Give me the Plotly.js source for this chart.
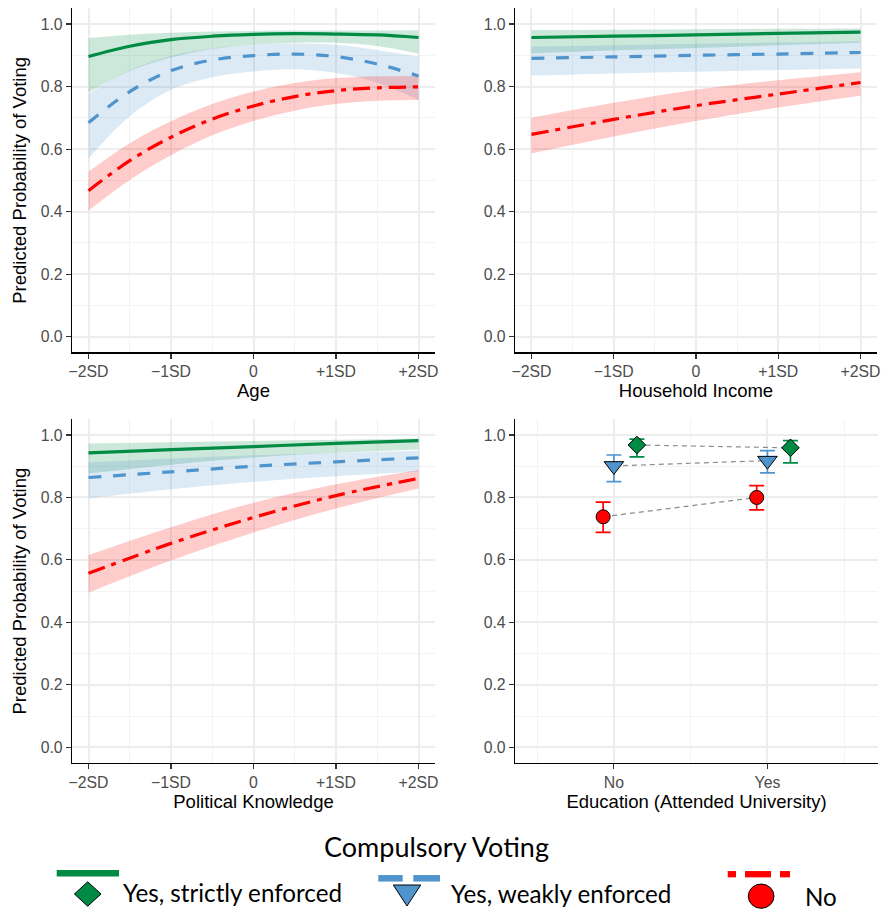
<!DOCTYPE html>
<html><head><meta charset="utf-8">
<script src="https://cdn.plot.ly/plotly-3.0.1.min.js"></script>
<style>html,body{margin:0;padding:0;background:#fff}</style>
</head><body><div id="chart" style="width:884px;height:914px"></div>
<script>
// ---------- data ----------
const sdVals = [-2, -1, 0, 1, 2];
const sdLabels = ['\u22122SD', '\u22121SD', '0', '+1SD', '+2SD'];

// Age panel
const ageX = [-2, -1.5, -1, -0.5, 0, 0.5, 1, 1.5, 2];
const ageStrict   = [0.896, 0.929, 0.950, 0.961, 0.967, 0.969, 0.968, 0.965, 0.957];
const ageStrictLo = [0.780, 0.850, 0.893, 0.920, 0.934, 0.940, 0.940, 0.930, 0.905];
const ageStrictHi = [0.955, 0.966, 0.972, 0.976, 0.978, 0.979, 0.979, 0.979, 0.980];
const ageWeak     = [0.684, 0.784, 0.851, 0.885, 0.899, 0.904, 0.896, 0.872, 0.834];
const ageWeakLo   = [0.570, 0.705, 0.790, 0.830, 0.848, 0.855, 0.843, 0.812, 0.757];
const ageWeakHi   = [0.776, 0.852, 0.898, 0.922, 0.934, 0.938, 0.934, 0.917, 0.896];
const ageNo       = [0.467, 0.563, 0.638, 0.696, 0.738, 0.768, 0.787, 0.796, 0.799];
const ageNoLo     = [0.403, 0.501, 0.580, 0.644, 0.690, 0.723, 0.744, 0.755, 0.757];
const ageNoHi     = [0.528, 0.619, 0.689, 0.744, 0.784, 0.811, 0.827, 0.833, 0.834];

// Household income panel
const incX = [-2, -1, 0, 1, 2];
const incStrict   = [0.957, 0.961, 0.965, 0.970, 0.974];
const incStrictLo = [0.906, 0.915, 0.923, 0.932, 0.940];
const incStrictHi = [0.981, 0.982, 0.983, 0.985, 0.986];
const incWeak     = [0.890, 0.895, 0.900, 0.904, 0.909];
const incWeakLo   = [0.835, 0.842, 0.847, 0.853, 0.858];
const incWeakHi   = [0.928, 0.932, 0.937, 0.941, 0.945];
const incNo       = [0.647, 0.695, 0.739, 0.776, 0.813];
const incNoLo     = [0.586, 0.640, 0.690, 0.733, 0.771];
const incNoHi     = [0.700, 0.748, 0.790, 0.820, 0.846];

// Political knowledge panel
const knX = [-2, -1, 0, 1, 2];
const knStrict   = [0.943, 0.953, 0.963, 0.973, 0.982];
const knStrictLo = [0.877, 0.905, 0.928, 0.943, 0.954];
const knStrictHi = [0.973, 0.977, 0.981, 0.985, 0.989];
const knWeak     = [0.864, 0.882, 0.900, 0.914, 0.927];
const knWeakLo   = [0.797, 0.826, 0.850, 0.868, 0.883];
const knWeakHi   = [0.912, 0.925, 0.935, 0.943, 0.950];
const knNo       = [0.557, 0.653, 0.736, 0.806, 0.861];
const knNoLo     = [0.495, 0.598, 0.688, 0.765, 0.829];
const knNoHi     = [0.616, 0.705, 0.783, 0.842, 0.888];

// Education panel
const eduCats = ['No', 'Yes'];
const eduPos = [1, 2];
const eduStrict   = [0.968, 0.959];
const eduStrictLo = [0.930, 0.911];
const eduStrictHi = [0.987, 0.982];
const eduWeak     = [0.901, 0.918];
const eduWeakLo   = [0.851, 0.879];
const eduWeakHi   = [0.936, 0.950];
const eduNo       = [0.738, 0.800];
const eduNoLo     = [0.688, 0.760];
const eduNoHi     = [0.785, 0.838];

const groupNames = ['Yes, strictly enforced', 'Yes, weakly enforced', 'No'];

// ---------- styles ----------
const GREEN = '#008B45', BLUE = '#4F94CD', RED = '#FF0000';
const FILL = {g: 'rgba(0,139,69,0.2)', b: 'rgba(79,148,205,0.2)', r: 'rgba(255,0,0,0.2)'};
const DASH_W = '12.5px,12px';
const DASH_N = '17px,7px,5px,7px';
const dodge = {strict: 0.15, weak: 0, no: -0.07};
const AXFONT = 'Liberation Sans, Arial, sans-serif';
const LEGFONT = 'Lato, Carlito, Calibri, sans-serif';

const traces = [];
function band(x, lo, hi, fill, xa, ya, name) {
  traces.push({x: x, y: lo, xaxis: xa, yaxis: ya, mode: 'lines', line: {width: 0, shape: 'spline'},
    hoverinfo: 'skip', showlegend: false, name: name + ' lower'});
  traces.push({x: x, y: hi, xaxis: xa, yaxis: ya, mode: 'lines', line: {width: 0, shape: 'spline'},
    fill: 'tonexty', fillcolor: fill, hoverinfo: 'skip', showlegend: false, name: name + ' upper'});
}
function line(x, y, color, dash, xa, ya, name) {
  traces.push({x: x, y: y, xaxis: xa, yaxis: ya, mode: 'lines', name: name, showlegend: false,
    line: {color: color, width: 3.2, dash: dash, shape: 'spline'}});
}
function panel(x, s, sLo, sHi, w, wLo, wHi, n, nLo, nHi, xa, ya) {
  band(x, sLo, sHi, FILL.g, xa, ya, groupNames[0]);
  band(x, wLo, wHi, FILL.b, xa, ya, groupNames[1]);
  band(x, nLo, nHi, FILL.r, xa, ya, groupNames[2]);
  line(x, s, GREEN, 'solid', xa, ya, groupNames[0]);
  line(x, w, BLUE, DASH_W, xa, ya, groupNames[1]);
  line(x, n, RED, DASH_N, xa, ya, groupNames[2]);
}
panel(ageX, ageStrict, ageStrictLo, ageStrictHi, ageWeak, ageWeakLo, ageWeakHi, ageNo, ageNoLo, ageNoHi, 'x', 'y');
panel(incX, incStrict, incStrictLo, incStrictHi, incWeak, incWeakLo, incWeakHi, incNo, incNoLo, incNoHi, 'x2', 'y2');
panel(knX, knStrict, knStrictLo, knStrictHi, knWeak, knWeakLo, knWeakHi, knNo, knNoLo, knNoHi, 'x3', 'y3');

// education: connectors then points
const eduGroups = [
  {v: eduStrict, lo: eduStrictLo, hi: eduStrictHi, off: dodge.strict, color: GREEN, sym: 'diamond', size: 13.5, name: groupNames[0]},
  {v: eduWeak, lo: eduWeakLo, hi: eduWeakHi, off: dodge.weak, color: BLUE, sym: 'triangle-down', size: 17, name: groupNames[1]},
  {v: eduNo, lo: eduNoLo, hi: eduNoHi, off: dodge.no, color: RED, sym: 'circle', size: 14, name: groupNames[2]}
];
eduGroups.forEach(g => {
  traces.push({x: eduPos.map(p => p + g.off), y: g.v, xaxis: 'x4', yaxis: 'y4', mode: 'lines',
    line: {color: '#8C8C8C', width: 1.2, dash: '5px,4px'}, hoverinfo: 'skip', showlegend: false, name: g.name + ' trend'});
});
eduGroups.forEach(g => {
  traces.push({x: eduPos.map(p => p + g.off), y: g.v, xaxis: 'x4', yaxis: 'y4', mode: 'markers', name: g.name, showlegend: false,
    marker: {symbol: g.sym, size: g.size, color: g.color, line: {color: '#000', width: 1}},
    error_y: {type: 'data', symmetric: false, array: g.hi.map((h, i) => h - g.v[i]), arrayminus: g.v.map((v, i) => v - g.lo[i]),
      color: g.color, thickness: 1.7, width: 7.5}});
});

// ---------- layout ----------
const gridC = '#EDEDED', minorC = '#F3F3F3';
const sdMinor = [-1.5, -0.5, 0.5, 1.5];
const yMinor = [0.1, 0.3, 0.5, 0.7, 0.9];
function xAxis(domain, title, anchor) {
  return {domain: domain, anchor: anchor, range: [-2.2, 2.2], tickmode: 'array', tickvals: sdVals, ticktext: sdLabels,
    showline: true, linecolor: '#000', linewidth: 1.2, ticks: 'outside', ticklen: 5, tickcolor: '#333', tickwidth: 1.1,
    showgrid: true, gridcolor: gridC, gridwidth: 2, zeroline: false,
    minor: {tickmode: 'array', tickvals: sdMinor, showgrid: true, gridcolor: minorC, gridwidth: 1, ticks: ''},
    tickfont: {family: AXFONT, size: 15.8, color: '#4D4D4D'},
    title: {text: title, font: {family: AXFONT, size: 18.5, color: '#000'}, standoff: 3}};
}
function yAxis(domain, title, anchor) {
  const a = {domain: domain, anchor: anchor, range: [-0.05, 1.05], tickmode: 'array', tickvals: [0, 0.2, 0.4, 0.6, 0.8, 1.0],
    tickformat: '.1f', showline: true, linecolor: '#000', linewidth: 1.2, ticks: 'outside', ticklen: 5, tickcolor: '#333', tickwidth: 1.1,
    showgrid: true, gridcolor: gridC, gridwidth: 2, zeroline: false,
    minor: {tickmode: 'array', tickvals: yMinor, showgrid: true, gridcolor: minorC, gridwidth: 1, ticks: ''},
    tickfont: {family: AXFONT, size: 15.8, color: '#4D4D4D'}};
  if (title) a.title = {text: title, font: {family: AXFONT, size: 18.5, color: '#000'}, standoff: 9};
  return a;
}
const W = 884, H = 914;
const px = v => v / W, py = v => 1 - v / H;
const dLeft = [px(72), px(435)], dRight = [px(515), px(877)];
const dTop = [py(352.3), py(8.4)], dBot = [py(762.9), py(419.4)];
const yTitle = 'Predicted Probability of Voting';

const x4 = xAxis([px(515), px(878)], 'Education (Attended University)', 'y4');
x4.range = [0.356, 2.72]; x4.tickvals = eduPos; x4.ticktext = eduCats;
x4.minor = {tickmode: 'array', tickvals: [0.5, 1.5, 2.5], showgrid: true, gridcolor: minorC, gridwidth: 1, ticks: ''};

// legend (drawn by hand to mimic stacked key)
const legShapes = [
  {type: 'line', xref: 'paper', yref: 'paper', x0: px(56.7), x1: px(119), y0: py(873.3), y1: py(873.3), line: {color: GREEN, width: 6.5}},
  {type: 'path', xref: 'paper', yref: 'paper', fillcolor: GREEN, line: {color: '#000', width: 1},
    path: `M${px(74.4)},${py(894)} L${px(87.7)},${py(881.8)} L${px(101)},${py(894)} L${px(87.7)},${py(906.2)} Z`},
  {type: 'line', xref: 'paper', yref: 'paper', x0: px(378.3), x1: px(402.7), y0: py(878.3), y1: py(878.3), line: {color: BLUE, width: 6.5}},
  {type: 'line', xref: 'paper', yref: 'paper', x0: px(413.3), x1: px(440), y0: py(878.3), y1: py(878.3), line: {color: BLUE, width: 6.5}},
  {type: 'path', xref: 'paper', yref: 'paper', fillcolor: BLUE, line: {color: '#000', width: 1},
    path: `M${px(393.3)},${py(885)} L${px(420.7)},${py(885)} L${px(407)},${py(906)} Z`},
  {type: 'line', xref: 'paper', yref: 'paper', x0: px(727.7), x1: px(736), y0: py(874.2), y1: py(874.2), line: {color: RED, width: 6.3}},
  {type: 'line', xref: 'paper', yref: 'paper', x0: px(745), x1: px(771), y0: py(874.2), y1: py(874.2), line: {color: RED, width: 6.3}},
  {type: 'line', xref: 'paper', yref: 'paper', x0: px(780), x1: px(790), y0: py(874.2), y1: py(874.2), line: {color: RED, width: 6.3}},
  {type: 'circle', xref: 'paper', yref: 'paper', x0: px(748.3), x1: px(774), y0: py(908.3), y1: py(884), fillcolor: RED, line: {color: '#000', width: 1}}
];
const legAnn = [
  {text: 'Compulsory Voting', x: px(436), y: py(846), xanchor: 'center', yanchor: 'middle', size: 27},
  {text: groupNames[0], x: px(121), y: py(892.5), xanchor: 'left', yanchor: 'middle', size: 24.2},
  {text: groupNames[1], x: px(448.5), y: py(893.5), xanchor: 'left', yanchor: 'middle', size: 24.2},
  {text: groupNames[2], x: px(803), y: py(896), xanchor: 'left', yanchor: 'middle', size: 24.2}
].map(a => ({text: a.text, x: a.x, y: a.y, xref: 'paper', yref: 'paper', xanchor: a.xanchor, yanchor: a.yanchor,
  showarrow: false, font: {family: LEGFONT, size: a.size, color: '#000'}}));

const layout = {
  width: W, height: H, margin: {l: 0, r: 0, t: 0, b: 0},
  paper_bgcolor: '#fff', plot_bgcolor: '#fff', showlegend: false,
  xaxis: xAxis(dLeft, 'Age', 'y'),
  yaxis: yAxis(dTop, yTitle, 'x'),
  xaxis2: xAxis(dRight, 'Household Income', 'y2'),
  yaxis2: yAxis(dTop, null, 'x2'),
  xaxis3: xAxis(dLeft, 'Political Knowledge', 'y3'),
  yaxis3: yAxis(dBot, yTitle, 'x3'),
  xaxis4: x4,
  yaxis4: yAxis(dBot, null, 'x4'),
  shapes: legShapes,
  annotations: legAnn
};
Plotly.newPlot('chart', traces, layout, {displayModeBar: false, staticPlot: true});
</script></body></html>
